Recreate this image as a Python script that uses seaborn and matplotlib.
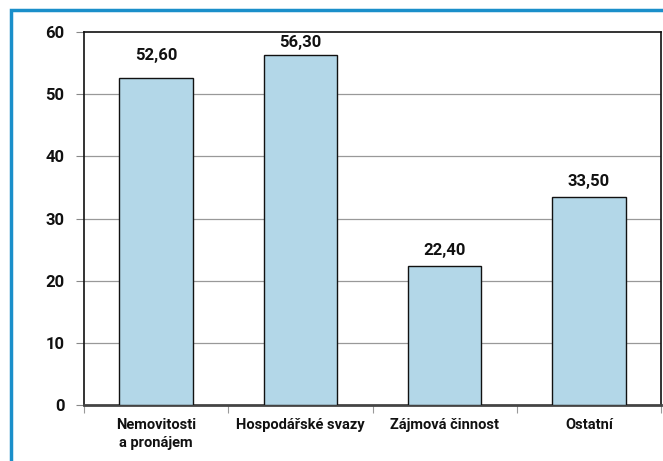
import matplotlib
matplotlib.use("Agg")
import matplotlib.pyplot as plt
import seaborn as sns
import pandas as pd
from matplotlib.patches import Rectangle

categories = ["Nemovitosti\na pronájem", "Hospodářské svazy", "Zájmová činnost", "Ostatní"]
values = [52.6, 56.3, 22.4, 33.5]
yticks = [0, 10, 20, 30, 40, 50, 60]
label_offsets_pt = [13, 6, 8, 7.5]

sns.set_theme(style="white")
plt.rcParams["font.family"] = ["Roboto", "DejaVu Sans"]
plt.rcParams["font.weight"] = "bold"

df = pd.DataFrame({"cat": categories, "val": values})

fig = plt.figure(figsize=(6.63, 4.61), dpi=100)
W, H = 663, 461
ax = fig.add_axes([84 / W, 1 - 405 / H, (661 - 84) / W, (405 - 32) / H])

sns.barplot(data=df, x="cat", y="val", color="#b3d7e8", edgecolor="#111111",
            linewidth=1.0, width=0.51, saturation=1, ax=ax, zorder=3)

ax.set_ylim(0, 60)
ax.set_xlim(-0.5, len(categories) - 0.5)
ax.set_yticks(yticks)
ax.set_yticklabels([str(t) for t in yticks], fontsize=12, fontweight="bold", color="#111111")
ax.set_xlabel("")
ax.set_ylabel("")
ax.set_xticks(range(len(categories)))
ax.set_xticklabels(categories, fontsize=10.5, fontweight="bold", color="#111111", linespacing=1.4)
ax.tick_params(axis="x", length=0, pad=9)
ax.tick_params(axis="y", length=6, width=0.8, color="#888888", pad=8, left=True)

for t in yticks[1:-1]:
    ax.axhline(t, color="#999999", linewidth=0.9, zorder=1)

# minor ticks between categories on x axis
ax.set_xticks([i - 0.5 for i in range(len(categories) + 1)], minor=True)
ax.tick_params(axis="x", which="minor", length=6, width=0.8, color="#999999", bottom=True)

for s in ["top", "left", "right"]:
    ax.spines[s].set_color("#111111")
    ax.spines[s].set_linewidth(1.2)
ax.spines["bottom"].set_color("#444444")
ax.spines["bottom"].set_linewidth(2.0)

for i, v in enumerate(values):
    ax.annotate(f"{v:.2f}".replace(".", ","), (i, v), xytext=(0, label_offsets_pt[i]),
                textcoords="offset points", ha="center", va="baseline",
                fontsize=12, fontweight="bold", color="#111111", zorder=5)

# blue frame
fig.patches.append(Rectangle((11 / W, -0.1), 1.2, 1 - 10 / H + 0.1, transform=fig.transFigure,
                             fill=False, edgecolor="#1a8fca", linewidth=2.5, zorder=10))

fig.savefig("out.png", dpi=100)
